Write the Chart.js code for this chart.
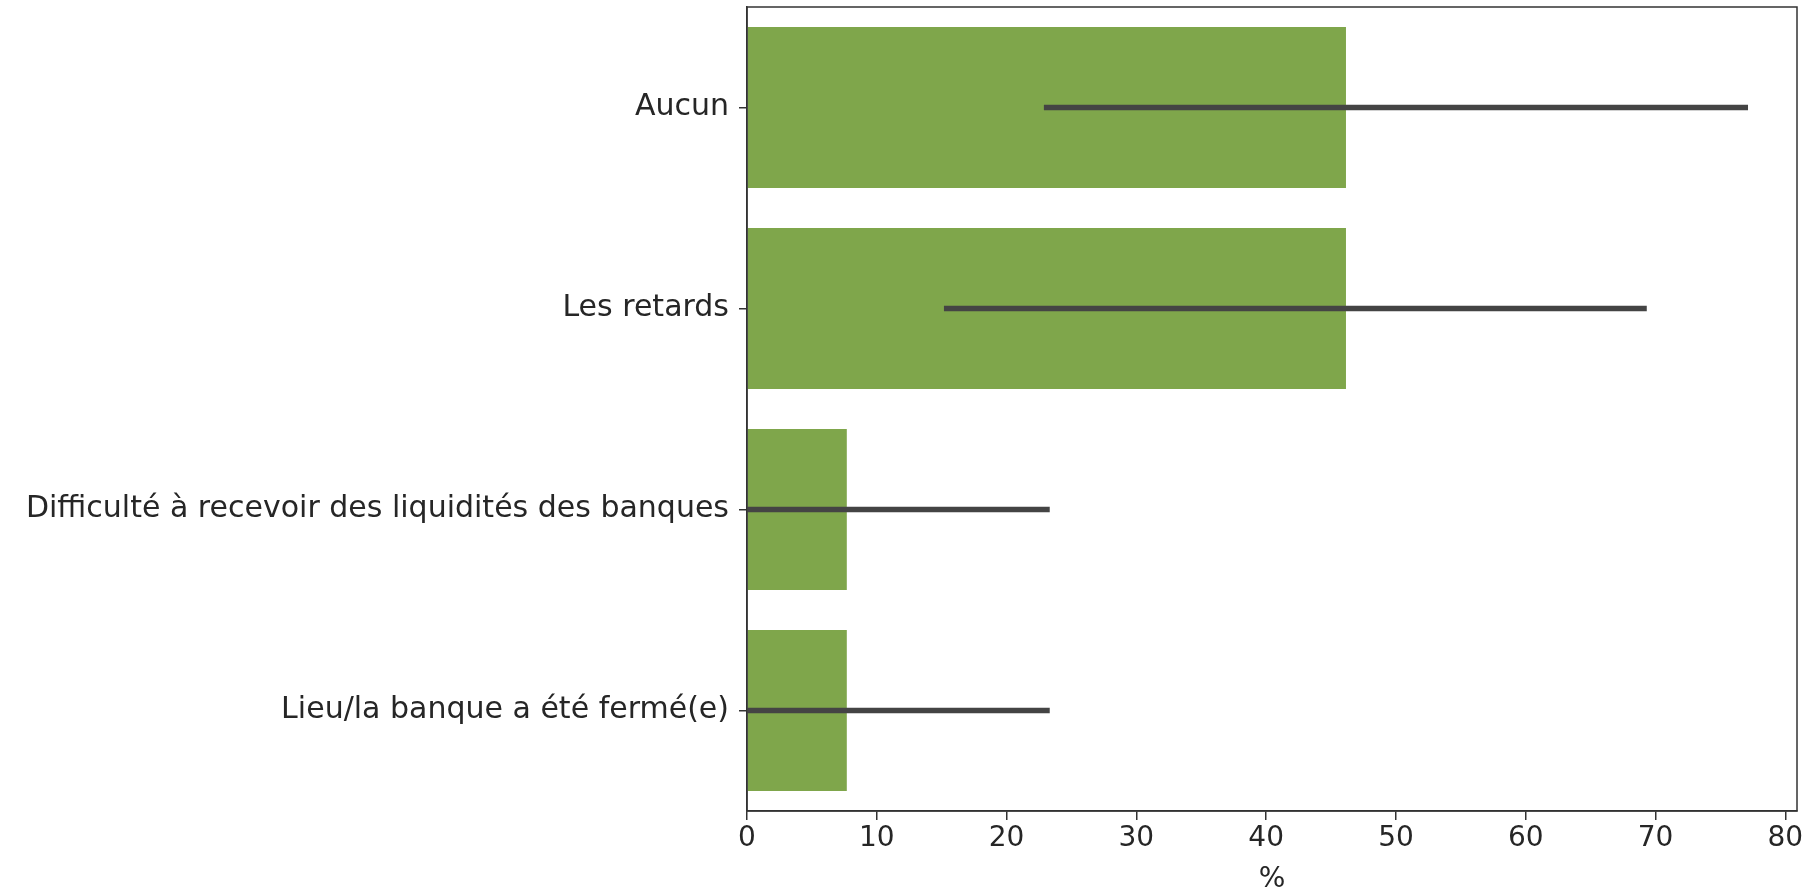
<!DOCTYPE html>
<html>
<head>
<meta charset="utf-8">
<script src="https://cdn.jsdelivr.net/npm/chart.js@4/dist/chart.umd.min.js"></script>
<style>
	html, body { margin: 0; padding: 0; background: #fff; }
	#wrap { width: 1819px; height: 892px; }
</style>
</head>
<body>
<div id="wrap"><canvas id="grafico"></canvas></div>
<script>
// Datos
const categorias = [
	'Aucun',
	'Les retards',
	'Difficulté à recevoir des liquidités des banques',
	'Lieu/la banque a été fermé(e)',
];
const porcentajes = [46.15, 46.15, 7.69, 7.69];
const ciBajo = [22.9, 15.2, 0, 0];
const ciAlto = [77.1, 69.3, 23.3, 23.3];
const ticksX = [0, 10, 20, 30, 40, 50, 60, 70, 80];

const colorTexto = '#262626';
const colorEje = '#333333';

// marco completo alrededor del área del gráfico
const marco = {
	id: 'marco',
	afterDraw(chart) {
		const { ctx, chartArea: a } = chart;
		ctx.save();
		ctx.strokeStyle = colorEje;
		ctx.lineWidth = 1.5;
		ctx.strokeRect(a.left, a.top, a.right - a.left, a.bottom - a.top);
		ctx.restore();
	},
};

const ctx = document.getElementById('grafico').getContext('2d');

new Chart(ctx, {
	type: 'bar',
	data: {
		labels: categorias,
		datasets: [
			{
				label: 'IC',
				data: ciBajo.map((v, i) => [v, ciAlto[i]]),
				backgroundColor: '#444444',
				barThickness: 5,
				grouped: false,
				order: 0,
			},
			{
				label: '%',
				data: porcentajes,
				backgroundColor: '#7fa64b',
				categoryPercentage: 1,
				barPercentage: 0.8,
				grouped: false,
				order: 1,
			},
		],
	},
	plugins: [marco],
	options: {
		indexAxis: 'y',
		responsive: true,
		maintainAspectRatio: false,
		animation: false,
		layout: { padding: { left: 0, top: 7, right: 22, bottom: 0 } },
		plugins: {
			legend: { display: false },
			tooltip: { enabled: false },
		},
		scales: {
			x: {
				min: 0,
				max: 80.9,
				afterBuildTicks: (scale) => {
					scale.ticks = ticksX.map((v) => ({ value: v }));
				},
				afterFit: (scale) => {
					scale.height = 81;
				},
				grid: {
					drawOnChartArea: false,
					color: colorEje,
					lineWidth: 1.5,
					tickLength: 9,
				},
				border: { color: colorEje, width: 1.5 },
				ticks: {
					color: colorTexto,
					font: { family: 'DejaVu Sans', size: 28 },
					padding: 2,
					maxRotation: 0,
				},
				title: {
					display: true,
					text: '%',
					color: colorTexto,
					font: { family: 'DejaVu Sans', size: 28, lineHeight: 0.9 },
					padding: { top: 0, bottom: 0 },
				},
			},
			y: {
				afterFit: (scale) => {
					scale.width = 747;
					scale.paddingTop = 0;
					scale.paddingBottom = 0;
				},
				grid: {
					offset: false,
					drawOnChartArea: false,
					color: colorEje,
					lineWidth: 1.5,
					tickLength: 8,
				},
				border: { color: colorEje, width: 1.5 },
				ticks: {
					color: colorTexto,
					font: { family: 'DejaVu Sans', size: 30 },
					padding: 10,
				},
			},
		},
	},
});
</script>
</body>
</html>
